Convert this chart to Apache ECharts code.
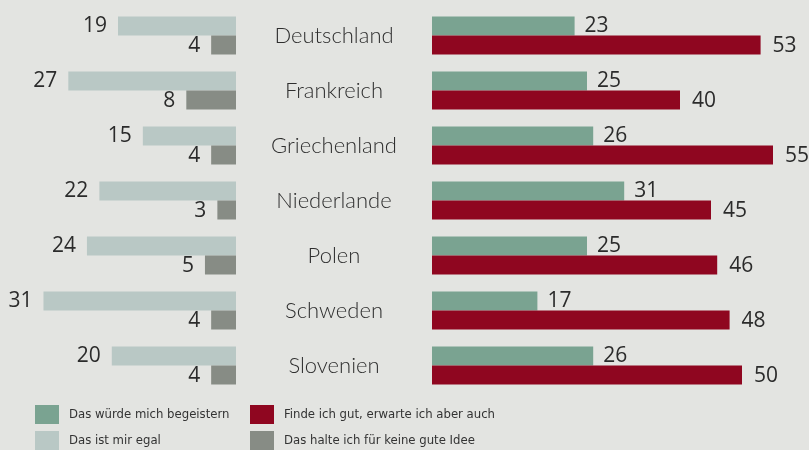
<!DOCTYPE html>
<html>
<head>
<meta charset="utf-8">
<script src="https://cdn.jsdelivr.net/npm/echarts@6/dist/echarts.min.js"></script>
<style>
  html, body { margin: 0; padding: 0; background: #e3e4e1; }
</style>
</head>
<body>
<div id="myChart" style="width: 809px;height:450px;"></div>
<script>
// Länder
const countries = ['Deutschland', 'Frankreich', 'Griechenland', 'Niederlande', 'Polen', 'Schweden', 'Slovenien'];
// rechte Seite
const begeistern = [23, 25, 26, 31, 25, 17, 26];
const gutAberAuch = [53, 40, 55, 45, 46, 48, 50];
// linke Seite
const egal = [19, 27, 15, 22, 24, 31, 20];
const keineGuteIdee = [4, 8, 4, 3, 5, 4, 4];

const names = [
  'Das würde mich begeistern',
  'Finde ich gut, erwarte ich aber auch',
  'Das ist mir egal',
  'Das halte ich für keine gute Idee'
];
const colors = ['#7aa391', '#8f0620', '#b9c8c5', '#878c85'];

const numFont = { fontFamily: 'Open Sans', fontSize: 21, color: '#2b2b2b' };
// schmale Schrift für die Legende
const legendText = {
  fontFamily: "'DejaVu Sans Condensed', 'Liberation Sans Narrow', 'Roboto', sans-serif",
  fontSize: 13, fontWeight: 300, color: '#333', padding: [0, 0, 0, 5]
};

function legendAt(name, left, top) {
  return {
    data: [name], left: left, top: top, padding: 0,
    icon: 'rect', itemWidth: 24, itemHeight: 19,
    textStyle: legendText, selectedMode: false
  };
}

const myChart = echarts.init(document.getElementById('myChart'));
const option = {
  backgroundColor: '#e3e4e1',
  animation: false,
  color: colors,
  grid: [
    { left: 0, width: 236, top: 8, height: 385 },
    { left: 432, width: 372, top: 8, height: 385 }
  ],
  xAxis: [
    { gridIndex: 0, type: 'value', min: 0, max: 38, inverse: true, show: false },
    { gridIndex: 1, type: 'value', min: 0, max: 60, show: false }
  ],
  yAxis: [
    { gridIndex: 0, type: 'category', data: countries, inverse: true,
      axisLine: { show: false }, axisTick: { show: false }, axisLabel: { show: false } },
    { gridIndex: 1, type: 'category', data: countries, inverse: true,
      axisLine: { show: false }, axisTick: { show: false },
      axisLabel: { align: 'center', margin: 98, fontFamily: 'Lato', fontWeight: 300, fontSize: 22, color: '#2e2e2e' } }
  ],
  legend: [
    legendAt(names[0], 35, 405),
    legendAt(names[1], 250, 405),
    legendAt(names[2], 35, 431),
    legendAt(names[3], 250, 431)
  ],
  series: [
    { name: names[0], type: 'bar', xAxisIndex: 1, yAxisIndex: 1, data: begeistern,
      barWidth: 19, barGap: '0%',
      label: { show: true, position: 'right', distance: 10, offset: [0, 0], ...numFont } },
    { name: names[1], type: 'bar', xAxisIndex: 1, yAxisIndex: 1, data: gutAberAuch,
      barWidth: 19, barGap: '0%',
      label: { show: true, position: 'right', distance: 12, offset: [0, 1], ...numFont } },
    { name: names[2], type: 'bar', xAxisIndex: 0, yAxisIndex: 0, data: egal,
      barWidth: 19, barGap: '0%',
      label: { show: true, position: 'left', distance: 11, offset: [0, 0], ...numFont } },
    { name: names[3], type: 'bar', xAxisIndex: 0, yAxisIndex: 0, data: keineGuteIdee,
      barWidth: 19, barGap: '0%',
      label: { show: true, position: 'left', distance: 11, offset: [0, 1], ...numFont } }
  ]
};
myChart.setOption(option);
</script>
</body>
</html>
